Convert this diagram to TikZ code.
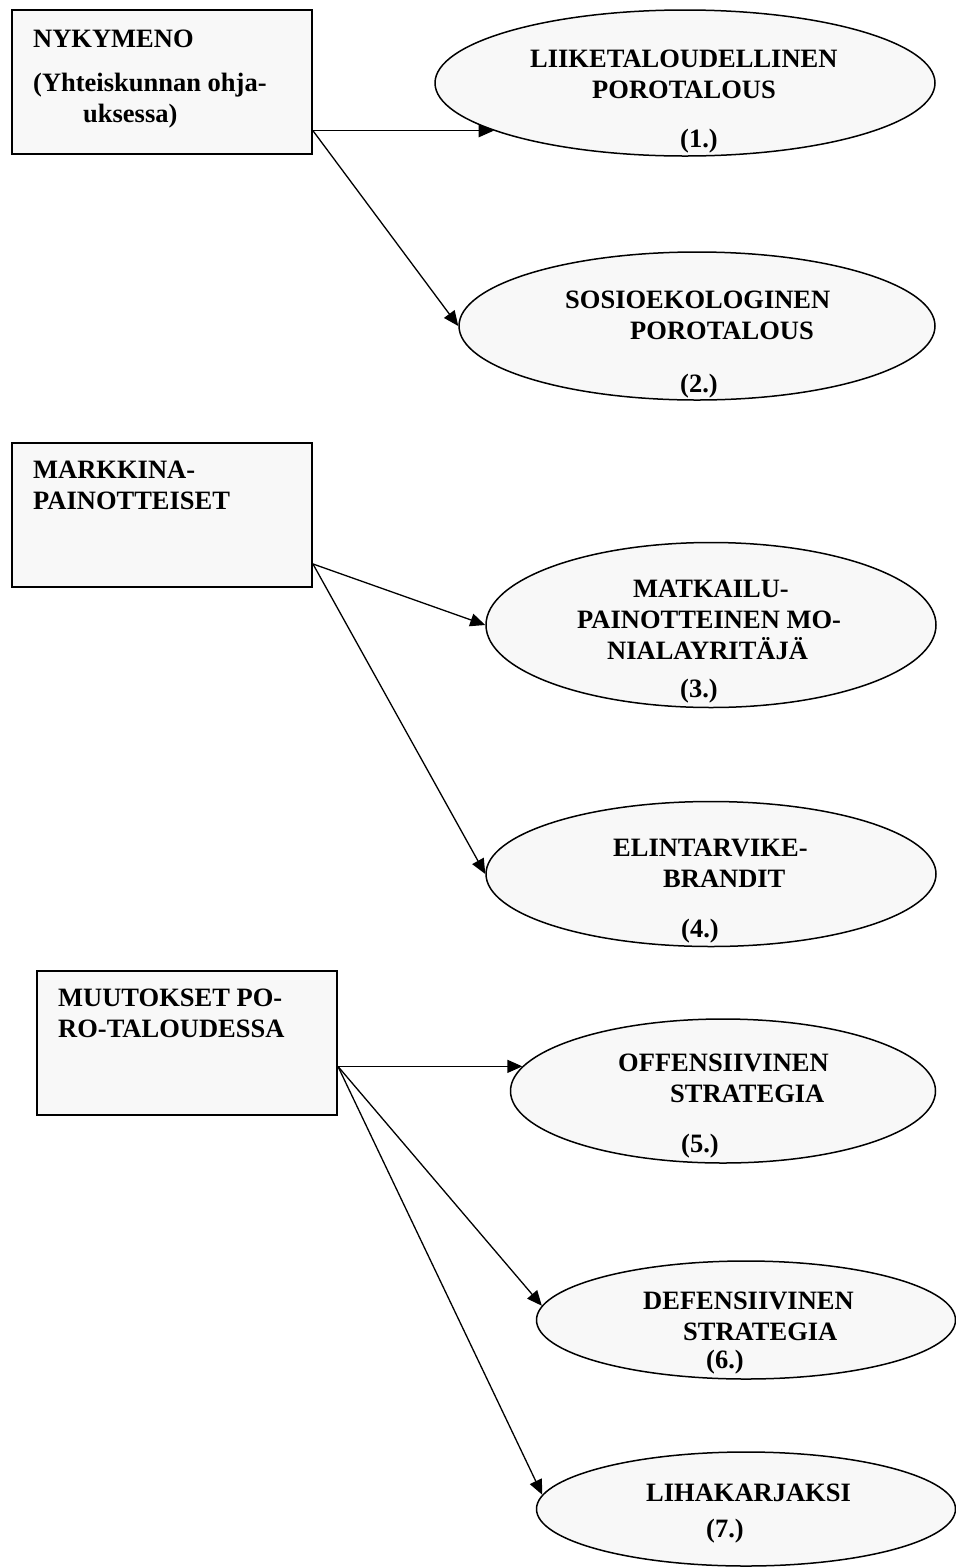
\documentclass[tikz,border=0pt]{standalone}
\usepackage{fontspec}
\setmainfont{Liberation Serif}
\usepackage{xcolor}
\usetikzlibrary{shapes.geometric, arrows.meta, positioning, calc}

\definecolor{boxgray}{HTML}{F8F8F8}

\begin{document}
\begin{tikzpicture}[x=1pt, y=-1pt,
    box/.style={rectangle, draw=black, fill=boxgray, line width=1.9pt, minimum width=300pt, minimum height=144pt, inner sep=0pt},
    oval/.style={ellipse, draw=black, fill=boxgray, line width=1.5pt, inner sep=0pt},
    txt/.style={anchor=base west, align=left, inner sep=0pt, font=\fontsize{26.5}{31}\selectfont\bfseries},
    arrow/.style={-{Triangle[length=15pt, width=13pt]}, line width=1.3pt, draw=black}
]
\useasboundingbox (0,0) rectangle (956,1567);

% Group 1: present state and its two branches
\node[box] (b1) at (162,82) {};
\node[txt] (b1t) at (33,122) {NYKYMENO\\[13pt](Yhteiskunnan ohja-\\\hspace*{50pt}uksessa)};

\node[oval, minimum width=500pt, minimum height=146pt] (e1) at (685,83) {};
\node[txt] (e1t) at (530,147) {LIIKETALOUDELLINEN\\\hspace*{62pt}POROTALOUS\\[18pt]\hspace*{150pt}(1.)};

\node[oval, minimum width=476pt, minimum height=148pt] (e2) at (697,326) {};
\node[txt] (e2t) at (565,392) {SOSIOEKOLOGINEN\\\hspace*{65pt}POROTALOUS\\[22pt]\hspace*{115pt}(2.)};

% Group 2: market oriented
\node[box] (b2) at (162,515) {};
\node[txt] (b2t) at (33,509) {MARKKINA-\\PAINOTTEISET};

\node[oval, minimum width=450pt, minimum height=165pt] (e3) at (711,625) {};
\node[txt] (e3t) at (577,697) {\hspace*{56pt}MATKAILU-\\PAINOTTEINEN MO-\\\hspace*{30pt}NIALAYRITÄJÄ\\[7pt]\hspace*{103pt}(3.)};

\node[oval, minimum width=450pt, minimum height=145pt] (e4) at (711,874) {};
\node[txt] (e4t) at (613,937) {ELINTARVIKE-\\\hspace*{50pt}BRANDIT\\[19pt]\hspace*{68pt}(4.)};

% Group 3: changes in reindeer economy
\node[box] (b3) at (187,1043) {};
\node[txt] (b3t) at (58,1037) {MUUTOKSET PO-\\RO-TALOUDESSA};

\node[oval, minimum width=425pt, minimum height=144pt] (e5) at (723,1091) {};
\node[txt] (e5t) at (618,1152) {OFFENSIIVINEN\\\hspace*{52pt}STRATEGIA\\[19pt]\hspace*{63pt}(5.)};

\node[oval, minimum width=419pt, minimum height=118pt] (e6) at (746,1320) {};
\node[txt] (e6t) at (643,1368) {DEFENSIIVINEN\\\hspace*{40pt}STRATEGIA\\[-3pt]\hspace*{63pt}(6.)};

\node[oval, minimum width=419pt, minimum height=114pt] (e7) at (746,1509) {};
\node[txt] (e7t) at (646,1537) {LIHAKARJAKSI\\[5pt]\hspace*{60pt}(7.)};

% Arrows
\coordinate (o1) at (b1.east |- e1.194.5);
\coordinate (o2) at ($(b2.south east)+(0,-24)$);
\coordinate (o3) at (b3.east |- e5.173.5);

\draw[arrow] (o1) -- (e1.194.5);
\draw[arrow] (o1) -- (e2.west);
\draw[arrow] (o2) -- (e3.west);
\draw[arrow] (o2) -- (e4.west);
\draw[arrow] (o3) -- (e5.173.5);
\draw[arrow] (o3) -- (e6.176);
\draw[arrow] (o3) -- (e7.176);

\end{tikzpicture}
\end{document}
